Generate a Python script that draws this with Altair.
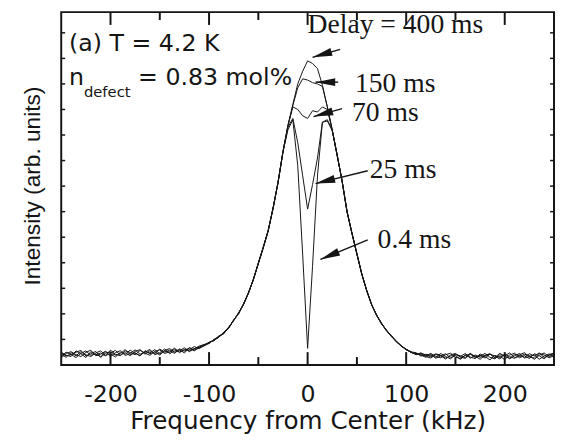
import math
import altair as alt
import pandas as pd

# ---------------- data ----------------
FREQ = list(range(-250, 255, 5))  # kHz sampling grid, 101 points

# values for x = -250 ... -110 (left wing)
L_04 = [0.42,0.30,0.48,0.36,0.52,0.40,0.33,0.47,0.55,0.38,0.44,0.31,0.50,0.42,0.58,0.45,0.37,0.52,0.47,0.60,0.43,0.55,0.49,0.62,0.51,0.58,0.66,0.55,0.70]
L_25 = [0.35,0.50,0.41,0.29,0.45,0.55,0.38,0.43,0.32,0.51,0.46,0.57,0.39,0.48,0.36,0.53,0.60,0.42,0.56,0.44,0.62,0.50,0.58,0.45,0.63,0.54,0.60,0.72,0.64]
L_70 = [0.50,0.38,0.33,0.55,0.44,0.29,0.52,0.40,0.47,0.35,0.58,0.42,0.36,0.55,0.49,0.40,0.57,0.46,0.38,0.53,0.59,0.45,0.52,0.66,0.48,0.61,0.55,0.63,0.74]
L_150 = [0.28,0.45,0.52,0.40,0.33,0.49,0.58,0.36,0.42,0.54,0.33,0.48,0.56,0.37,0.45,0.59,0.42,0.50,0.61,0.40,0.48,0.63,0.44,0.55,0.60,0.47,0.68,0.59,0.66]
L_400 = [0.46,0.36,0.40,0.50,0.57,0.35,0.44,0.53,0.30,0.46,0.52,0.38,0.45,0.60,0.40,0.48,0.35,0.56,0.44,0.51,0.39,0.57,0.64,0.50,0.56,0.67,0.52,0.64,0.69]

# values for x = -105 ... 105 (line centre)
M_04 = [0.79,0.86,0.98,1.11,1.25,1.47,1.75,2.03,2.38,2.82,3.35,3.98,4.60,5.26,6.14,7.15,8.34,9.20,9.60,7.80,4.30,0.65,3.86,7.40,9.50,9.55,9.18,8.20,7.20,5.99,5.16,4.36,3.55,2.91,2.36,1.96,1.61,1.35,1.13,0.92,0.75,0.61,0.49]
M_25 = [0.76,0.89,0.96,1.09,1.28,1.45,1.76,2.01,2.39,2.84,3.34,3.97,4.59,5.25,6.15,7.14,8.35,9.30,9.65,8.70,7.40,6.10,7.06,8.10,9.50,9.60,9.17,8.19,7.21,6.00,5.14,4.35,3.57,2.90,2.35,1.93,1.62,1.36,1.12,0.94,0.73,0.60,0.50]
M_70 = [0.80,0.85,1.00,1.12,1.22,1.49,1.74,2.05,2.37,2.81,3.36,4.00,4.61,5.27,6.14,7.15,8.34,9.36,10.10,10.00,9.75,9.65,9.95,9.90,10.10,10.00,9.19,8.21,7.19,6.01,5.15,4.34,3.55,2.92,2.37,1.95,1.64,1.33,1.15,0.90,0.76,0.59,0.51]
M_150 = [0.75,0.84,0.99,1.08,1.29,1.44,1.77,2.00,2.40,2.80,3.37,3.96,4.58,5.24,6.13,7.14,8.33,9.34,10.15,10.85,11.20,11.15,11.05,11.00,10.90,10.10,9.18,8.22,7.18,5.98,5.14,4.33,3.54,2.89,2.34,1.96,1.60,1.37,1.11,0.91,0.73,0.62,0.49]
M_400 = [0.78,0.88,0.95,1.14,1.24,1.47,1.73,2.04,2.36,2.83,3.33,3.99,4.62,5.26,6.16,7.16,8.36,9.38,10.20,11.00,11.50,11.90,11.80,11.60,10.95,10.10,9.20,8.20,7.20,6.02,5.16,4.36,3.56,2.91,2.36,1.94,1.63,1.34,1.14,0.93,0.75,0.61,0.52]

# values for x = 110 ... 250 (right wing)
R_04 = [0.45,0.38,0.30,0.42,0.26,0.35,0.44,0.28,0.37,0.22,0.40,0.31,0.25,0.43,0.33,0.20,0.38,0.29,0.41,0.24,0.36,0.45,0.27,0.33,0.40,0.22,0.35,0.43,0.30]
R_25 = [0.40,0.46,0.33,0.27,0.41,0.36,0.23,0.39,0.45,0.30,0.26,0.42,0.35,0.22,0.38,0.44,0.27,0.34,0.21,0.39,0.46,0.28,0.37,0.25,0.44,0.36,0.24,0.41,0.47]
R_70 = [0.48,0.35,0.42,0.37,0.30,0.45,0.33,0.24,0.41,0.36,0.29,0.46,0.31,0.38,0.27,0.42,0.35,0.23,0.44,0.32,0.26,0.40,0.48,0.31,0.27,0.45,0.39,0.28,0.36]
R_150 = [0.43,0.40,0.36,0.45,0.34,0.28,0.40,0.46,0.31,0.25,0.37,0.43,0.29,0.35,0.45,0.30,0.24,0.40,0.36,0.47,0.29,0.33,0.42,0.37,0.22,0.38,0.47,0.33,0.40]
R_400 = [0.41,0.47,0.39,0.32,0.44,0.38,0.27,0.35,0.42,0.33,0.45,0.26,0.39,0.30,0.36,0.43,0.28,0.46,0.33,0.26,0.42,0.37,0.30,0.44,0.35,0.47,0.29,0.38,0.43]

SERIES = {
    "0.4 ms": L_04 + M_04 + R_04,
    "25 ms": L_25 + M_25 + R_25,
    "70 ms": L_70 + M_70 + R_70,
    "150 ms": L_150 + M_150 + R_150,
    "400 ms": L_400 + M_400 + R_400,
}

X_TICKS_MAJOR = [-200, -100, 0, 100, 200]
X_TICKS_MINOR = [-150, -50, 50, 150]
Y_TICKS = [1, 2, 3, 4, 5, 6, 7, 8, 9, 10, 11, 12, 13]

# annotation labels (serif) and arrows
LBL_TEXT = ["Delay = 400 ms", "150 ms", "70 ms", "25 ms", "0.4 ms"]
LBL_X = [0, 48, 45, 63, 71]
LBL_Y = [13.0, 10.69, 9.53, 7.33, 4.59]
ARR_TAIL_X = [33, 31, 35, 61, 61]
ARR_TAIL_Y = [12.35, 11.07, 10.03, 7.60, 4.90]
ARR_TIP_X = [5, 8, 6, 8, 13]
ARR_TIP_Y = [12.04, 11.07, 9.72, 7.10, 4.13]

# panel labels (sans)
SANS_TEXT = ["(a) T = 4.2 K", "n", "= 0.83 mol%"]
SANS_X = [-242, -242, -172]
SANS_Y = [12.27, 10.96, 10.96]
SUB_TEXT = ["defect"]
SUB_X = [-227]
SUB_Y = [10.49]

# ---------------- layout ----------------
W, H = 500, 358
X_DOM = [-250, 250]
Y_DOM = [0, 13.81]
SX = W / (X_DOM[1] - X_DOM[0])
SY = H / (Y_DOM[1] - Y_DOM[0])
INK = "#151515"

for k, v in SERIES.items():
    assert len(v) == len(FREQ), (k, len(v))

rows = []
for name, vals in SERIES.items():
    for f, v in zip(FREQ, vals):
        rows.append({"freq": f, "intensity": v, "delay": name})
df = pd.DataFrame(rows)

xs = alt.Scale(domain=X_DOM, nice=False, zero=False)
ys = alt.Scale(domain=Y_DOM, nice=False, zero=False)

X_TITLE = "Frequency from Center (kHz)"
Y_TITLE = "Intensity (arb. units)"
x_axis = alt.Axis(values=X_TICKS_MAJOR, ticks=False, tickSize=0, domain=False, grid=False,
                  labelExpr="'' + datum.value",
                  labelFont="DejaVu Sans", labelFontSize=24, labelColor=INK, labelPadding=18,
                  labelOverlap=False, labelFlush=False,
                  titleFont="DejaVu Sans", titleFontSize=25,
                  titleFontWeight="normal", titleColor=INK, titleBaseline="alphabetic", titleY=64)
y_axis = alt.Axis(labels=False, ticks=False, tickSize=0, domain=False, grid=False,
                  titleFont="Liberation Sans", titleFontSize=23,
                  titleFontWeight="normal", titleColor=INK, titleBaseline="alphabetic",
                  titleX=-22, titleY=176, titleAngle=270, titleAlign="center")


def X(field):
    return alt.X(field, scale=xs, axis=x_axis, title=X_TITLE)


def Y(field):
    return alt.Y(field, scale=ys, axis=y_axis, title=Y_TITLE)


lines = alt.Chart(df).mark_line(color=INK, strokeWidth=1, strokeJoin="round").encode(
    x=X("freq:Q"), y=Y("intensity:Q"), detail="delay:N",
)

# tick marks drawn inside the frame
tmaj = pd.DataFrame({"v": X_TICKS_MAJOR})
tmin = pd.DataFrame({"v": X_TICKS_MINOR})
tyd = pd.DataFrame({"v": Y_TICKS})


def xtick(data, y0, y1):
    return alt.Chart(data).mark_rule(color=INK, strokeWidth=2).encode(
        x=X("v:Q"), y=alt.value(y0), y2=alt.value(y1))


def ytick(x0, x1):
    return alt.Chart(tyd).mark_rule(color=INK, strokeWidth=1.5).encode(
        y=Y("v:Q"), x=alt.value(x0), x2=alt.value(x1))


ticks = [
    xtick(tmaj, H, H - 13), xtick(tmin, H, H - 8),
    xtick(tmaj, 0, 13), xtick(tmin, 0, 8),
    ytick(0, 4), ytick(W, W - 4),
]

# arrows
ang = []
for tx, ty_, hx, hy in zip(ARR_TAIL_X, ARR_TAIL_Y, ARR_TIP_X, ARR_TIP_Y):
    a = math.degrees(math.atan2((hx - tx) * SX, (hy - ty_) * SY)) % 360
    ang.append(a)
arr = pd.DataFrame({"x": ARR_TAIL_X, "y": ARR_TAIL_Y, "x2": ARR_TIP_X, "y2": ARR_TIP_Y, "angle": ang})

arrow_lines = alt.Chart(arr).mark_rule(color=INK, strokeWidth=1.4).encode(
    x=X("x:Q"), y=Y("y:Q"), x2="x2:Q", y2="y2:Q")
ARROW_PATH = "M0,0 L0.4,2 L-0.4,2 Z"
arrow_heads = alt.Chart(arr).mark_point(shape=ARROW_PATH, filled=True, size=400, color=INK,
                                        opacity=1, strokeWidth=0).encode(
    x=X("x2:Q"), y=Y("y2:Q"), angle=alt.Angle("angle:Q", scale=None))

lbl = pd.DataFrame({"t": LBL_TEXT, "x": LBL_X, "y": LBL_Y})
serif_text = alt.Chart(lbl).mark_text(font="Liberation Serif", fontSize=28, align="left",
                                      baseline="alphabetic", color=INK).encode(
    x=X("x:Q"), y=Y("y:Q"), text="t:N")

sans = pd.DataFrame({"t": SANS_TEXT, "x": SANS_X, "y": SANS_Y})
sans_text = alt.Chart(sans).mark_text(font="DejaVu Sans", fontSize=24, align="left",
                                      baseline="alphabetic", color=INK).encode(
    x=X("x:Q"), y=Y("y:Q"), text="t:N")

sub = pd.DataFrame({"t": SUB_TEXT, "x": SUB_X, "y": SUB_Y})
sub_text = alt.Chart(sub).mark_text(font="DejaVu Sans", fontSize=15, align="left",
                                    baseline="alphabetic", color=INK).encode(
    x=X("x:Q"), y=Y("y:Q"), text="t:N")

chart = alt.layer(lines, *ticks, arrow_lines, arrow_heads, serif_text, sans_text, sub_text).properties(
    width=W, height=H,
    autosize=alt.AutoSizeParams(type="none"),
    padding={"left": 54, "top": 1, "right": 1, "bottom": 76},
    background="white",
).configure_view(stroke=INK, strokeWidth=2)

chart.save("out.html", embed_options={"renderer": "svg", "actions": False})
